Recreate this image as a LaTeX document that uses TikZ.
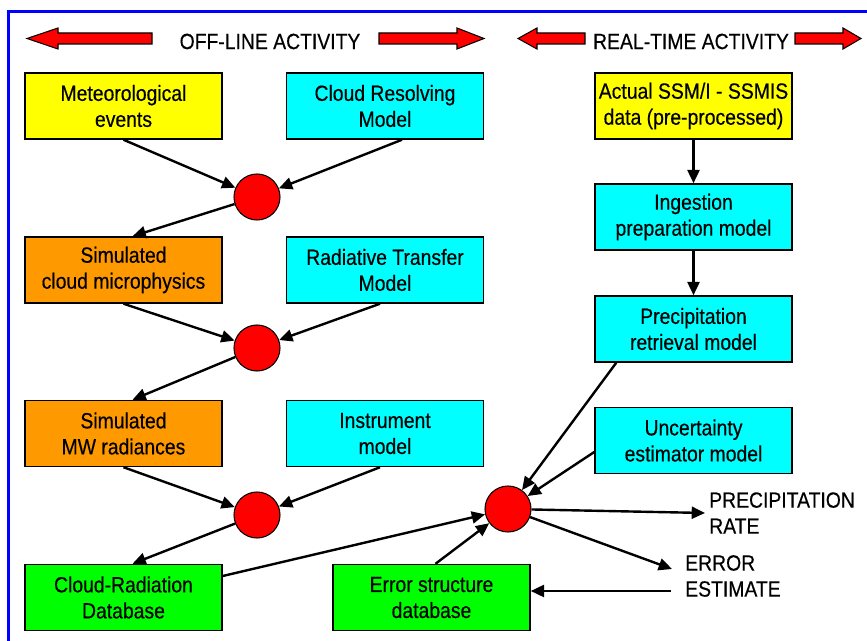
\documentclass[tikz,border=0pt]{standalone}
\usepackage{fontspec}
\setmainfont{Liberation Sans}[FakeStretch=0.88, FakeBold=0.4]
\usetikzlibrary{arrows.meta, calc}
\definecolor{boxyellow}{RGB}{255,255,0}
\definecolor{boxcyan}{RGB}{0,255,255}
\definecolor{boxorange}{RGB}{255,153,0}
\definecolor{boxgreen}{RGB}{0,255,0}
\definecolor{juncred}{RGB}{255,0,0}
\definecolor{frameblue}{RGB}{0,0,255}
\tikzset{
  every node/.style={font=\fontsize{16.5}{19.5}\selectfont},
  box/.style    = {rectangle, draw=black, line width=1.1pt, inner sep=0pt,
                   align=center, minimum width=147.75pt, minimum height=49.5pt},
  inbox/.style  = {box, fill=boxyellow},
  model/.style  = {box, fill=boxcyan},
  sim/.style    = {box, fill=boxorange},
  db/.style     = {box, fill=boxgreen},
  junc/.style   = {circle, draw=black, line width=0.8pt, fill=juncred,
                   minimum size=34.5pt, inner sep=0pt},
  outtext/.style = {anchor=west, align=left, inner sep=3pt},
  title/.style  = {inner sep=0pt},
  arrow/.style  = {-{Triangle[length=10pt,width=9pt]}, line width=1.8pt},
  hdr/.style    = {draw=black, line width=0.8pt, fill=juncred},
}
% block arrow of the header: tip x, head base x, tail x
\newcommand\hdarrow[3]{%
  \draw[hdr] (#1,38.5) -- (#2,28) -- (#2,33) -- (#3,33) -- (#3,44)
    -- (#2,44) -- (#2,49) -- cycle;}

\begin{document}
\begin{tikzpicture}[x=0.75pt, y=-0.75pt]
  \useasboundingbox (0,0) rectangle (867,641);
  % ---- frame ----
  \draw[frameblue, line width=2.2pt] (8.7,645) -- (8.7,11.5) -- (870,11.5);

  % ---- header ----
  \hdarrow{27}{58}{152}
  \hdarrow{484}{457}{379}
  \node[title] (offl) at (270,41.5) {OFF-LINE ACTIVITY};
  \hdarrow{518}{537}{585}
  \hdarrow{861}{843}{795}
  \node[title] (realt) at (691,41.5) {REAL-TIME ACTIVITY};

  % ---- off-line activity (left) ----
  \node[inbox] (met)   at (123.5,106)   {Meteorological\\events};
  \node[model] (crm)   at (385,106)     {Cloud Resolving\\Model};
  \node[junc]  (j1)    at (257,197)     {};
  \node[sim]   (micro) at (123.5,270)   {Simulated\\cloud microphysics};
  \node[model] (rtm)   at (385,270)     {Radiative Transfer\\Model};
  \node[junc]  (j2)    at (257,348)     {};
  \node[sim]   (mwrad) at (123.5,433.5) {Simulated\\MW radiances};
  \node[model] (instr) at (385,433.5)   {Instrument\\model};
  \node[junc]  (j3)    at (257,515)     {};
  \node[db]    (crdb)  at (123.5,597.5) {Cloud-Radiation\\Database};

  % ---- real-time activity (right) ----
  \node[inbox] (ssmi)   at (693.5,106)   {Actual SSM/I - SSMIS\\data (pre-processed)};
  \node[model] (ingest) at (693.5,217)   {Ingestion\\preparation model};
  \node[model] (retr)   at (693.5,329)   {Precipitation\\retrieval model};
  \node[model] (uncert) at (693.5,440.5) {Uncertainty\\estimator model};
  \node[junc]  (j4)     at (508,509)     {};
  \node[db]    (esdb)   at (431.5,597.5) {Error structure\\database};
  \node[outtext] (prate)  at (705,513) {PRECIPITATION\\RATE};
  \node[outtext] (errest) at (681,576) {ERROR\\ESTIMATE};
  \coordinate (errin)  at (672,569);
  \coordinate (errout) at (671,591);

  % ---- off-line arrows ----
  \draw[arrow] (met.south) -- (j1);
  \draw[arrow] ($(crm.south)+(17,0)$) -- (j1);
  \draw[arrow] (j1) -- ($(micro.north)+(9,0)$);
  \draw[arrow] (micro.south) -- (j2);
  \draw[arrow] ($(rtm.south)+(-5,0)$) -- (j2);
  \draw[arrow] (j2) -- ($(mwrad.north)+(9,0)$);
  \draw[arrow] (mwrad.south) -- (j3);
  \draw[arrow] ($(instr.south)+(-5,0)$) -- (j3);
  \draw[arrow] (j3) -- ($(crdb.north)+(9,0)$);

  % ---- real-time arrows ----
  \draw[arrow] (ssmi) -- (ingest);
  \draw[arrow] (ingest) -- (retr);
  \draw[arrow] ($(retr.south west)+(22,0)$) -- (j4);
  \draw[arrow] ($(uncert.west)+(0,11.5)$) -- (j4);
  \draw[arrow] ($(crdb.east)+(0,-21.5)$) -- (j4);
  \draw[arrow] ($(esdb.north)+(4,0)$) -- (j4);
  \draw[arrow] (j4) -- (prate.west);
  \draw[arrow] (j4) -- (errin);
  \draw[arrow] (errout) -- ($(esdb.east)+(0,-6.5)$);
\end{tikzpicture}
\end{document}
